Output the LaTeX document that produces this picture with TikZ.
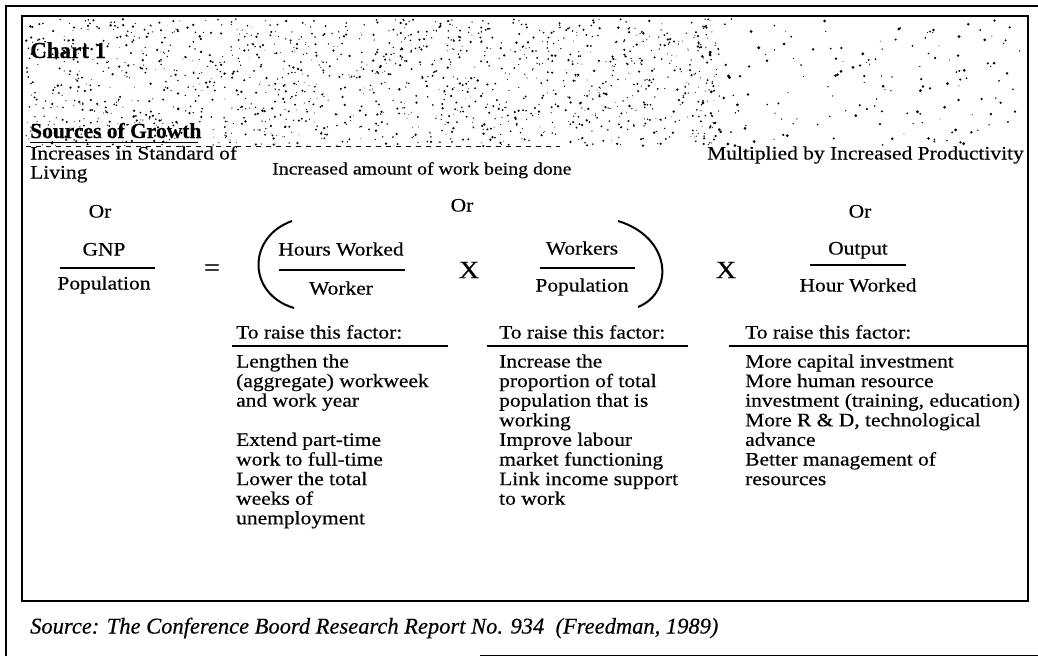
\documentclass[tikz,border=0pt]{standalone}
\usepackage{fontspec}
\setmainfont{Liberation Serif}[FakeStretch=1.13, FakeBold=0.4]
\newfontfamily\headfont{Liberation Serif}[FakeBold=0.4]

\begin{document}
\begin{tikzpicture}[x=1pt,y=-1pt,
		txt/.style={font=\fontsize{19}{22}\selectfont, inner sep=0pt, text height=13pt, text depth=4pt},
		head/.style={font=\headfont\bfseries\fontsize{23}{27}\selectfont, inner sep=0pt, anchor=base west},
		op/.style={font=\fontsize{25}{29}\selectfont, inner sep=0pt},
		bar/.style={line width=1.8pt},
		frame/.style={line width=2.5pt}]
		\useasboundingbox (0,0) rectangle (1038,656);

		% frames
		\draw [frame] (6,656) -- (6,6) -- (1038,6);
		\draw [frame] (22,16) rectangle (1028,601);
		\draw [line width=1pt] (480,655) -- (1038,655);

		% speckled header
		\pgfmathsetseed{42}
		\foreach \i in {1,...,1500}{
			\pgfmathsetmacro{\px}{26+694*rnd}
			\pgfmathsetmacro{\py}{19+127*rnd}
			\pgfmathsetmacro{\ds}{0.4+0.9*rnd}
			\fill (\px,\py) circle (\ds pt);
		}
		\foreach \i in {1,...,170}{
			\pgfmathsetmacro{\px}{700+324*rnd}
			\pgfmathsetmacro{\py}{19+127*rnd}
			\pgfmathsetmacro{\ds}{0.5+1.1*rnd}
			\fill (\px,\py) circle (\ds pt);
		}
		\draw [line width=0.8pt, dash pattern=on 5pt off 5pt] (26,146) -- (560,146);

		\node [head] (chart) at (30,58) {Chart 1};
		\node [head, font=\headfont\bfseries\fontsize{21.5}{25}\selectfont] (sources) at (30,138) {Sources of Growth};
		\draw [line width=1.5pt] (sources.south west) ++(0,4) -- ++(168,0);

		% top labels
		\node [txt, anchor=west] (living1) at (30,155) {Increases in Standard of};
		\node [txt, anchor=west] (living2) at (30,174) {Living};
		\node [txt, anchor=west, font=\fontsize{17.5}{21}\selectfont] (work) at (272,170) {Increased amount of work being done};
		\node [txt, anchor=east] (prod) at (1024,155) {Multiplied by Increased Productivity};

		\node [txt] (or1) at (100,213) {Or};
		\node [txt] (or2) at (462,207) {Or};
		\node [txt] (or3) at (860,213) {Or};

		% the equation
		\node [txt] (gnp) at (104,251) {GNP};
		\draw [bar] (60,268) -- (155,268);
		\node [txt] (pop) at (104,285) {Population};

		\node [op] (eq) at (212,270) {=};

		\draw [line width=2pt] (292,221) .. controls (247,237) and (247,294) .. (294,308);
		\node [txt] (hours) at (341,251) {Hours Worked};
		\draw [bar] (279,270) -- (405,270);
		\node [txt] (worker) at (341,290) {Worker};

		\node [op] (x1) at (469,270) {X};

		\node [txt] (workers) at (582,250) {Workers};
		\draw [bar] (540,268) -- (635,268);
		\node [txt] (wpop) at (582,287) {Population};
		\draw [line width=2pt] (618,221) .. controls (671,237) and (675,292) .. (638,307);

		\node [op] (x2) at (726,270) {X};

		\node [txt] (output) at (858,250) {Output};
		\draw [bar] (810,265) -- (906,265);
		\node [txt] (hour) at (858,287) {Hour Worked};

		% the three columns
		\node [txt, anchor=west] (raise1) at (236,334) {To raise this factor:};
		\node [txt, anchor=west] (raise2) at (499,334) {To raise this factor:};
		\node [txt, anchor=west] (raise3) at (745,334) {To raise this factor:};
		\draw [bar] (232,346) -- (448,346);
		\draw [bar] (487,346) -- (688,346);
		\draw [bar] (729,346) -- (1028,346);

		\foreach \t [count=\k] in {Lengthen the, {(aggregate) workweek}, and work year, {}, Extend part-time, work to full-time, Lower the total, weeks of, unemployment}
			\node [txt, anchor=west] (ra\k) at (236,343.4+19.6*\k) {\t};
		\foreach \t [count=\k] in {Increase the, proportion of total, population that is, working, Improve labour, market functioning, Link income support, to work}
			\node [txt, anchor=west] (rb\k) at (499,343.4+19.6*\k) {\t};
		\foreach \t [count=\k] in {More capital investment, More human resource, {investment (training, education)}, {More R \& D, technological}, advance, Better management of, resources}
			\node [txt, anchor=west] (rc\k) at (745,343.4+19.6*\k) {\t};

		\node [inner sep=0pt, anchor=west, font=\headfont\itshape\fontsize{22.5}{26}\selectfont] (src) at (30,628) {Source: The Conference Boord Research Report No. 934~ (Freedman, 1989)};

	\end{tikzpicture}
\end{document}
